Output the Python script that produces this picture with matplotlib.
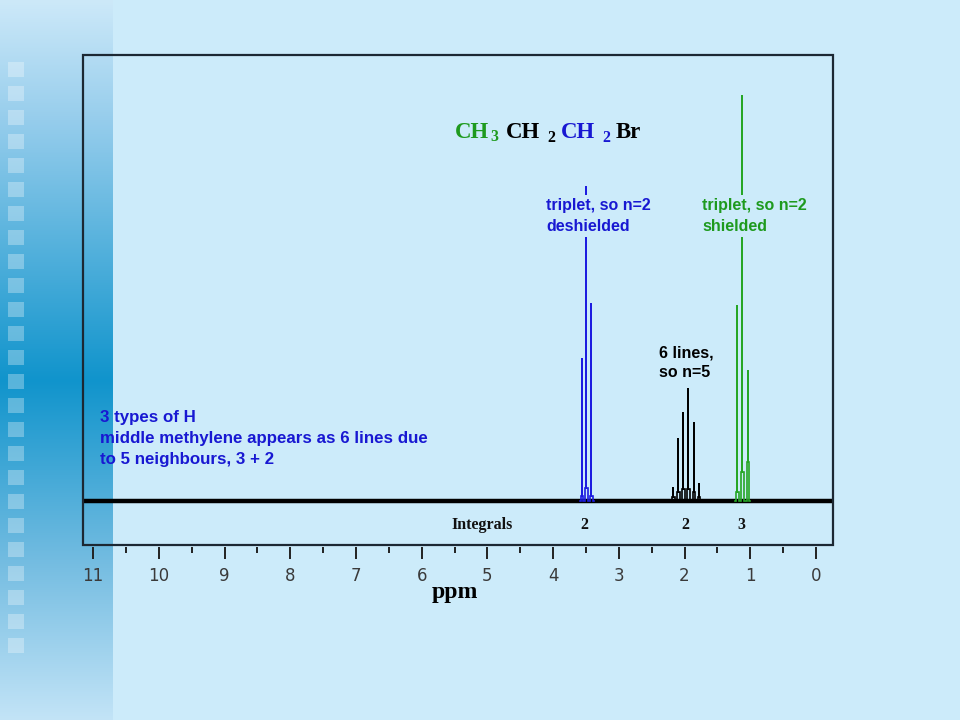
import matplotlib
matplotlib.use('Agg')
import matplotlib.pyplot as plt
import numpy as np
from matplotlib.patches import Rectangle

# ---------------- data ----------------
blue_ppm = [3.563, 3.493, 3.417]
blue_height = [143, 315, 198]
blue_pedestal = [5, 13, 5]

black_ppm = [2.168, 2.092, 2.016, 1.940, 1.858, 1.777]
black_height = [14, 63, 89, 113, 79, 18]
black_pedestal = [4, 9, 12, 12, 9, 4]

green_ppm = [1.194, 1.118, 1.035]
green_height = [196, 406, 131]
green_pedestal = [9, 29, 39]

integral_labels = ['2', '2', '3']
integral_ppm = [3.52, 1.98, 1.14]

major_ticks = [0, 1, 2, 3, 4, 5, 6, 7, 8, 9, 10, 11]
tick_labels = ['0', '1', '2', '3', '4', '5', '6', '7', '8', '9', '10', '11']
minor_ticks = [0.5, 1.5, 2.5, 3.5, 4.5, 5.5, 6.5, 7.5, 8.5, 9.5, 10.5]

# ---------------- style ----------------
W, H = 960, 720
BG = '#CCEBFA'
BLUE = '#1C1CE0'
BLUE_TXT = '#1818D2'
GREEN = '#26A626'
GREEN_TXT = '#1E9A1E'
SANS = 'Liberation Sans'
SERIF = 'Liberation Serif'
PX = 0.72  # points per pixel at 100 dpi

fig = plt.figure(figsize=(9.6, 7.2), dpi=100, facecolor=BG)

# background decoration (left gradient stripe with squares)
bg = fig.add_axes([0, 0, 1, 1], zorder=0)
bg.axis('off')
keys_y = [0, 120, 380, 560, 720]
keys_c = [(205, 233, 249), (150, 205, 236), (16, 148, 204), (115, 188, 225), (195, 228, 247)]
rows = np.arange(H)
grad = np.stack([np.interp(rows, keys_y, [c[k] for c in keys_c]) for k in range(3)], axis=-1) / 255.0
bg.imshow(grad[:, None, :], extent=(0, 113, H, 0), aspect='auto', interpolation='bilinear', origin='upper')
for yy in range(62, 650, 24):
    bg.add_patch(Rectangle((8, yy), 16, 15, facecolor='white', alpha=0.3, edgecolor='none'))
bg.set_xlim(0, W)
bg.set_ylim(H, 0)

# main spectrum axes
ax = fig.add_axes([82.7 / W, 1 - 545 / H, (833 - 82.7) / W, (545 - 54.7) / H], zorder=1)
ax.set_facecolor('none')
ax.set_xlim(11.16, -0.26)
ax.set_ylim(-44, 446.3)
for s in ax.spines.values():
    s.set_visible(False)
ax.spines['bottom'].set_position(('outward', 2 * PX))
ax.add_patch(Rectangle((0, 0), 1, 1, transform=ax.transAxes, fill=False, lw=1.6,
                       edgecolor='#1C2833', clip_on=False, zorder=5))
ax.set_yticks([])
ax.set_xticks(major_ticks)
ax.set_xticklabels(tick_labels, fontfamily='DejaVu Sans')
ax.set_xticks(minor_ticks, minor=True)
ax.tick_params(axis='x', which='major', length=12 * PX, width=1.4, color='#222222',
               direction='out', pad=8 * PX, labelsize=12, labelcolor='#3A3A3A')
ax.tick_params(axis='x', which='minor', length=6 * PX, width=1.4, color='#222222', direction='out')

# baseline
ax.axhline(0, color='black', lw=3.2, zorder=2)


def multiplet(ppm, height, ped, color):
    hw = 0.018
    xs = [ppm[0] + 0.035]
    ys = [0]
    for p, h, d in zip(ppm, height, ped):
        xs += [p + hw, p + hw, p, p, p, p - hw, p - hw]
        ys += [0, d, d, h, d, d, 0]
    xs.append(ppm[-1] - 0.035)
    ys.append(0)
    ax.plot(xs, ys, color=color, lw=1.2, zorder=3, solid_joinstyle='miter')


multiplet(blue_ppm, blue_height, blue_pedestal, BLUE)
multiplet(black_ppm, black_height, black_pedestal, 'black')
multiplet(green_ppm, green_height, green_pedestal, GREEN)

# integrals row
ax.text(5.54, -28.3, 'Integrals', fontfamily=SERIF, fontweight='bold', fontsize=11.5,
        ha='left', va='baseline', color='#111111')
for lab, p in zip(integral_labels, integral_ppm):
    ax.text(p, -28.3, lab, fontfamily=SERIF, fontweight='bold', fontsize=11.5,
            ha='center', va='baseline', color='#111111')

# text overlay
tx = fig.add_axes([0, 0, 1, 1], zorder=4)
tx.axis('off')
tx.set_xlim(0, W)
tx.set_ylim(H, 0)

box = dict(facecolor=BG, edgecolor='none', pad=2.0)

# formula
fs_main, fs_sub = 16.5, 11.5
tx.text(455, 138, 'CH', color=GREEN_TXT, fontfamily=SERIF, fontweight='bold', fontsize=fs_main, va='baseline')
tx.text(490, 141, '3', color=GREEN_TXT, fontfamily=SERIF, fontweight='bold', fontsize=fs_sub, va='baseline')
tx.text(506, 138, 'CH', color='black', fontfamily=SERIF, fontweight='bold', fontsize=fs_main, va='baseline')
tx.text(547, 142, '2', color='black', fontfamily=SERIF, fontweight='bold', fontsize=fs_sub, va='baseline')
tx.text(561, 138, 'CH', color=BLUE_TXT, fontfamily=SERIF, fontweight='bold', fontsize=fs_main, va='baseline')
tx.text(602, 142, '2', color=BLUE_TXT, fontfamily=SERIF, fontweight='bold', fontsize=fs_sub, va='baseline')
tx.text(616, 138, 'Br', color='black', fontfamily=SERIF, fontweight='bold', fontsize=fs_main, va='baseline')

ann_fs = 11.5
tx.text(546, 210, 'triplet, so n=2', color=BLUE_TXT, fontfamily=SANS, fontweight='bold', fontsize=ann_fs, va='baseline', bbox=box)
tx.text(546, 231, 'deshielded', color=BLUE_TXT, fontfamily=SANS, fontweight='bold', fontsize=ann_fs, va='baseline', bbox=box)
tx.text(702, 210, 'triplet, so n=2', color=GREEN_TXT, fontfamily=SANS, fontweight='bold', fontsize=ann_fs, va='baseline', bbox=box)
tx.text(702, 231, 'shielded', color=GREEN_TXT, fontfamily=SANS, fontweight='bold', fontsize=ann_fs, va='baseline', bbox=box)
tx.text(659, 357, '6 lines,', color='black', fontfamily=SANS, fontweight='bold', fontsize=ann_fs, va='baseline')
tx.text(659, 377, 'so n=5', color='black', fontfamily=SANS, fontweight='bold', fontsize=ann_fs, va='baseline')

bl_fs = 12.2
tx.text(100, 422, '3 types of H', color=BLUE_TXT, fontfamily=SANS, fontweight='bold', fontsize=bl_fs, va='baseline')
tx.text(100, 443.5, 'middle methylene appears as 6 lines due', color=BLUE_TXT, fontfamily=SANS, fontweight='bold', fontsize=bl_fs, va='baseline')
tx.text(100, 464, 'to 5 neighbours, 3 + 2', color=BLUE_TXT, fontfamily=SANS, fontweight='bold', fontsize=bl_fs, va='baseline')

tx.text(432, 598, 'ppm', color='black', fontfamily=SERIF, fontweight='bold', fontsize=17, va='baseline')

fig.savefig('out.png', dpi=100, facecolor=BG)
